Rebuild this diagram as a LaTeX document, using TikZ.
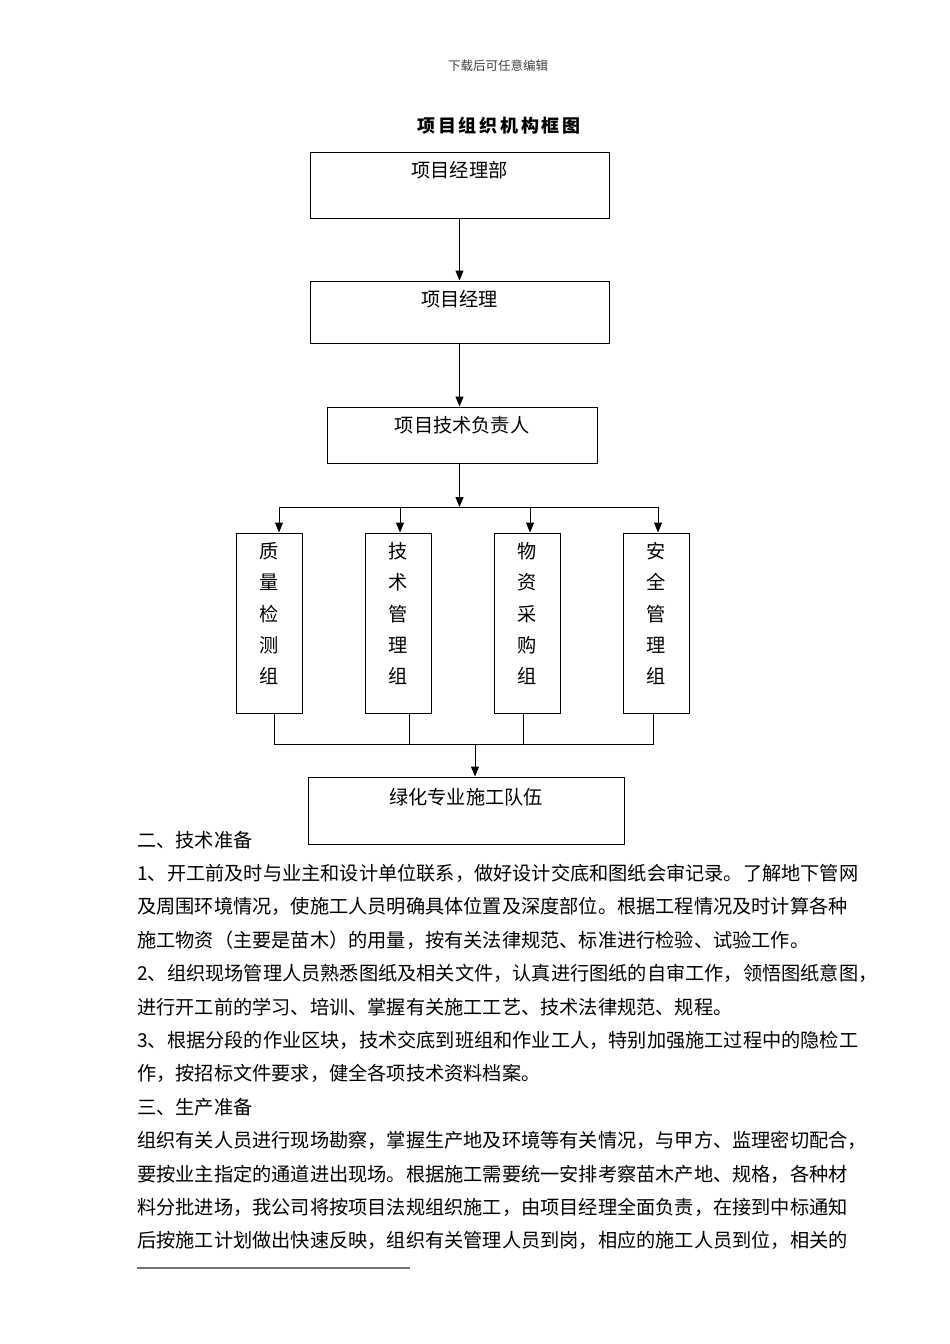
\documentclass[tikz,border=0pt]{standalone}
\usepackage{fontspec}
\setmainfont{Noto Sans CJK SC}
\newfontfamily\titlefont{Noto Sans CJK SC}[LetterSpace=15]
\usetikzlibrary{arrows.meta,positioning}
\tikzset{
  unit/.style={draw, line width=1pt, inner sep=0pt, align=center, font=\fontsize{19.2}{23}\selectfont},
  group/.style={unit, minimum width=66pt, minimum height=180pt, font=\fontsize{19.2}{31.25}\selectfont},
  body/.style={anchor=base west, inner sep=0pt, font=\fontsize{19.2}{23}\selectfont},
  link/.style={line width=1pt},
  arrow/.style={-{Triangle[length=10pt,width=8pt]}, line width=1pt},
}
\newcommand{\lift}[1]{\rule[-#1pt]{0pt}{0pt}}

\begin{document}
\begin{tikzpicture}[x=1pt, y=-1pt]
\path[use as bounding box, fill=white] (0,0) rectangle (950,1344);
\node[font=\fontsize{12.5}{15}\selectfont, text=black!75] (head) at (498,66) {下载后可任意编辑};
\node[font=\titlefont\bfseries\fontsize{18}{20}\selectfont] (title) at (499,126) {项目组织机构框图};
% chain of command
\node[unit, minimum width=299pt, minimum height=66pt] (pmo) at (459.5,185) {项目经理部\lift{32}};
\node[unit, minimum width=299pt, minimum height=62pt, below=62pt of pmo] (pm) {项目经理\lift{28}};
\node[unit, minimum width=270pt, minimum height=56pt, below=63pt of pm, xshift=2.5pt] (tech) {项目技术负责人\lift{22}};
\coordinate (split) at (459.5,507);
% groups
\node[group] (qc) at (269,623) {质\\量\\检\\测\\组\lift{20}};
\node[group, right=62pt of qc] (tm) {技\\术\\管\\理\\组\lift{20}};
\node[group, right=62pt of tm] (mp) {物\\资\\采\\购\\组\lift{20}};
\node[group, right=62pt of mp] (sm) {安\\全\\管\\理\\组\lift{20}};
\coordinate (merge) at (475,744);
\node[unit, minimum width=316pt, minimum height=67pt] (crew) at (466,810.5) {绿化专业施工队伍\lift{29}};
\draw[arrow] (pmo) -- (pm);
\draw[arrow] (pm.south) -- (pm.south |- tech.north);
\draw[arrow] (tech.south -| split) -- (split);
\draw[link] ([xshift=10pt]qc.north |- split) -- ([xshift=2pt]sm.north |- split);
\draw[arrow] ([xshift=10pt]qc.north |- split) -- ([xshift=10pt]qc.north);
\draw[arrow] ([xshift=2pt]tm.north |- split) -- ([xshift=2pt]tm.north);
\draw[arrow] ([xshift=3pt]mp.north |- split) -- ([xshift=3pt]mp.north);
\draw[arrow] ([xshift=2pt]sm.north |- split) -- ([xshift=2pt]sm.north);
\draw[link] ([xshift=5pt]qc.south) -- ([xshift=5pt]qc.south |- merge) -- ([xshift=-3pt]sm.south |- merge) -- ([xshift=-3pt]sm.south);
\draw[link] ([xshift=11pt]tm.south) -- ([xshift=11pt]tm.south |- merge);
\draw[link] ([xshift=-4pt]mp.south) -- ([xshift=-4pt]mp.south |- merge);
\draw[arrow] (merge) -- (merge |- crew.north);
% text below the chart
\node[body] (p1) at (137,847) {二、技术准备};
\node[body] (p2) at (137,880.4) {1、开工前及时与业主和设计单位联系，做好设计交底和图纸会审记录。了解地下管网};
\node[body] (p3) at (137,913.8) {及周围环境情况，使施工人员明确具体位置及深度部位。根据工程情况及时计算各种};
\node[body] (p4) at (137,947.2) {施工物资（主要是苗木）的用量，按有关法律规范、标准进行检验、试验工作。};
\node[body] (p5) at (137,980.6) {2、组织现场管理人员熟悉图纸及相关文件，认真进行图纸的自审工作，领悟图纸意图，};
\node[body] (p6) at (137,1014) {进行开工前的学习、培训、掌握有关施工工艺、技术法律规范、规程。};
\node[body] (p7) at (137,1047.4) {3、根据分段的作业区块，技术交底到班组和作业工人，特别加强施工过程中的隐检工};
\node[body] (p8) at (137,1080.8) {作，按招标文件要求，健全各项技术资料档案。};
\node[body] (p9) at (137,1114.2) {三、生产准备};
\node[body] (p10) at (137,1147.6) {组织有关人员进行现场勘察，掌握生产地及环境等有关情况，与甲方、监理密切配合，};
\node[body] (p11) at (137,1181) {要按业主指定的通道进出现场。根据施工需要统一安排考察苗木产地、规格，各种材};
\node[body] (p12) at (137,1214.4) {料分批进场，我公司将按项目法规组织施工，由项目经理全面负责，在接到中标通知};
\node[body] (p13) at (137,1247.8) {后按施工计划做出快速反映，组织有关管理人员到岗，相应的施工人员到位，相关的};
\draw[black!55, line width=1.2pt] (137,1268) -- (410,1268);
\end{tikzpicture}
\end{document}
